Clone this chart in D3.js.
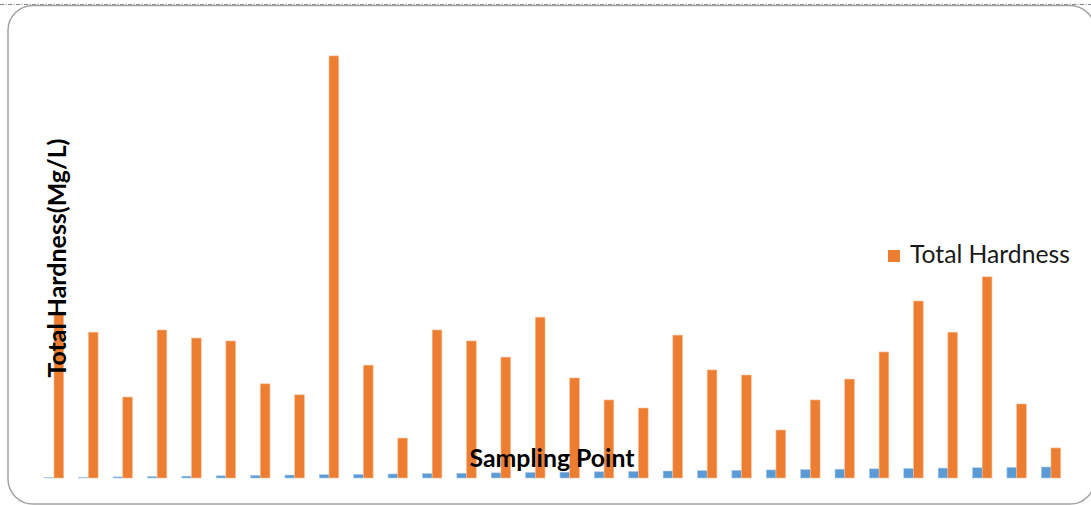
<!DOCTYPE html>
<html>
<head>
<meta charset="utf-8">
<script src="https://cdn.jsdelivr.net/npm/d3@7/dist/d3.min.js"></script>
<style>
  html, body { margin: 0; padding: 0; background: #fff; }
  svg { display: block; }
</style>
</head>
<body>
<svg id="chart" width="1091" height="505"></svg>
<script>
// ---- data ----
const categories = ["1","2","3","4","5","6","7","8","9","10","11","12","13","14","15",
                    "16","17","18","19","20","21","22","23","24","25","26","27","28","29","30"];
const samplingPoint = [1,2,3,4,5,6,7,8,9,10,11,12,13,14,15,16,17,18,19,20,21,22,23,24,25,26,27,28,29,30];
const totalHardness = [453,398,221,404,382,374,257,227,1152,308,109,404,374,330,439,
                       273,213,191,390,295,281,131,213,270,344,483,398,549,202,82];
const seriesNames = ["Sampling Point", "Total Hardness"];
const legendLabels = ["Total Hardness"];
const yDomainMax = 1250;

// ---- drawing ----
const svg = d3.select("#chart");
const W = 1091, H = 505;

// outer frame (rounded) and dashed top rule
svg.append("line")
  .attr("x1", 0).attr("x2", W).attr("y1", 4.5).attr("y2", 4.5)
  .attr("stroke", "#7d8796").attr("stroke-width", 1.2)
  .attr("stroke-dasharray", "4,1.5,1,1.5");
svg.append("rect")
  .attr("x", 8).attr("y", 5.5).attr("width", 1087).attr("height", 498.5)
  .attr("rx", 25).attr("ry", 25)
  .attr("fill", "none").attr("stroke", "#a3a3a3").attr("stroke-width", 1.5);

const plot = { left: 36.8, right: 1068.2, top: 20, bottom: 478 };

const x0 = d3.scaleBand().domain(categories).range([plot.left, plot.right]).padding(0);
const inner = (x0.bandwidth() - 19.4) / 2;
const x1 = d3.scaleBand().domain(seriesNames).range([inner, x0.bandwidth() - inner]).padding(0);
const y = d3.scaleLinear().domain([0, yDomainMax]).range([plot.bottom, plot.top]);
const colors = d3.scaleOrdinal().domain(seriesNames).range(["#5b9bd5", "#ed7d31"]);
const strokes = d3.scaleOrdinal().domain(seriesNames).range(["#a9c8ea", "#f6bf99"]);

const rows = categories.map((c, i) => ({ c, vals: [samplingPoint[i], totalHardness[i]] }));

const g = svg.append("g");
const groups = g.selectAll("g.cat").data(rows).join("g")
  .attr("class", "cat")
  .attr("transform", d => `translate(${x0(d.c)},0)`);

groups.selectAll("rect").data(d => d.vals.map((v, k) => ({ s: seriesNames[k], v })))
  .join("rect")
  .attr("x", d => x1(d.s))
  .attr("width", x1.bandwidth())
  .attr("y", d => y(d.v))
  .attr("height", d => y(0) - y(d.v))
  .attr("fill", d => colors(d.s))
  .attr("stroke", d => strokes(d.s))
  .attr("stroke-width", 0.6);

// helper to fit text to a measured width
function fitText(sel, target) {
  const node = sel.node();
  const fs = parseFloat(sel.attr("font-size"));
  const w = node.getComputedTextLength();
  sel.attr("font-size", (fs * target / w).toFixed(2));
}

// axis titles
const yTitle = svg.append("text")
  .attr("transform", "translate(66,258) rotate(-90)")
  .attr("text-anchor", "middle")
  .attr("font-family", "Lato, 'Open Sans', sans-serif")
  .attr("font-weight", "bold")
  .attr("font-size", 20)
  .attr("fill", "#000")
  .text("Total Hardness(Mg/L)");
fitText(yTitle, 239);

const xTitle = svg.append("text")
  .attr("x", 552).attr("y", 467)
  .attr("text-anchor", "middle")
  .attr("font-family", "Lato, 'Open Sans', sans-serif")
  .attr("font-weight", "bold")
  .attr("font-size", 20)
  .attr("fill", "#000")
  .text("Sampling Point");
fitText(xTitle, 165);

// legend
const leg = svg.append("g");
leg.selectAll("rect").data(legendLabels).join("rect")
  .attr("x", 888).attr("y", 250).attr("width", 12).attr("height", 12)
  .attr("fill", d => colors(d));
const legText = leg.selectAll("text").data(legendLabels).join("text")
  .attr("x", 910).attr("y", 263)
  .attr("font-family", "Lato, 'Open Sans', sans-serif")
  .attr("font-size", 20)
  .attr("fill", "#1a1a1a")
  .text(d => d);
fitText(legText, 160);
</script>
</body>
</html>
